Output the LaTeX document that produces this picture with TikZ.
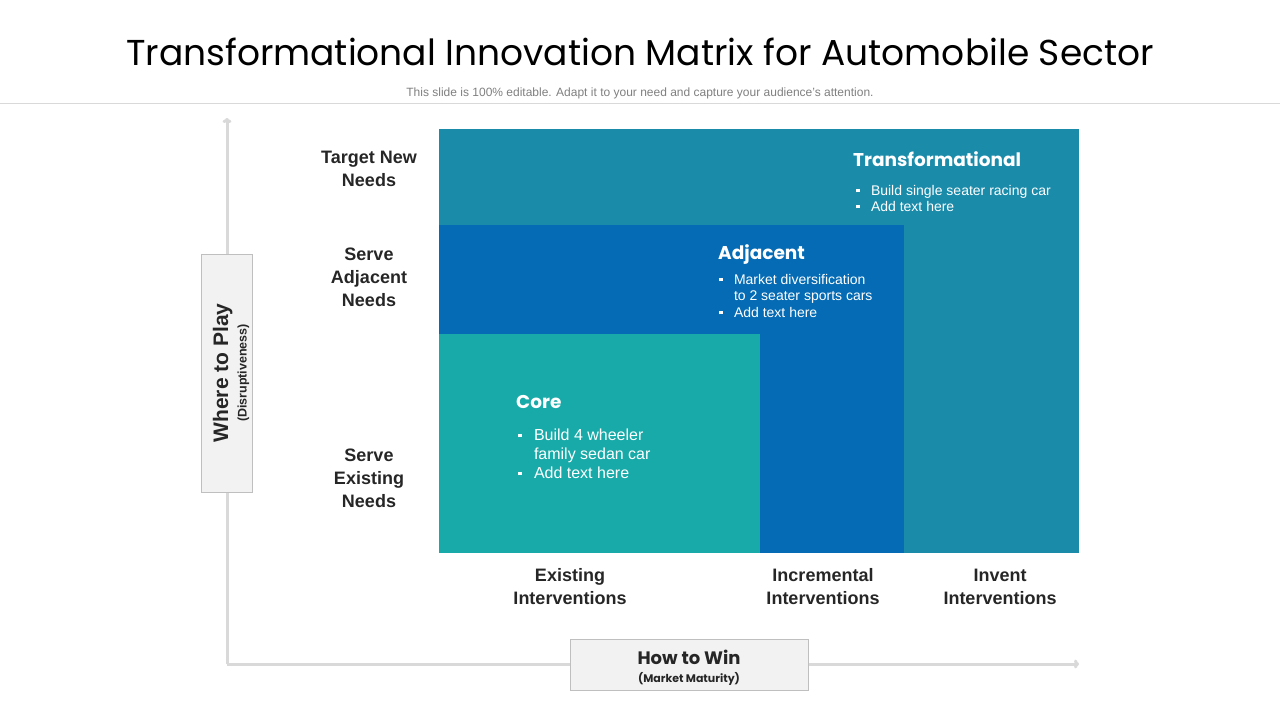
\documentclass[tikz,border=0pt]{standalone}
\usepackage{fontspec}
\setmainfont{Liberation Sans}
\newfontfamily\titlefont{Poppins}
\usetikzlibrary{arrows.meta}

\definecolor{transC}{HTML}{1B8BAA}
\definecolor{adjC}{HTML}{046BB4}
\definecolor{coreC}{HTML}{17AAA8}
\definecolor{axisC}{HTML}{D9D9D9}
\definecolor{boxC}{HTML}{F2F2F2}
\definecolor{boxLine}{HTML}{BFBFBF}
\definecolor{labelC}{HTML}{262626}
\definecolor{subC}{HTML}{7F7F7F}

\newcommand{\blt}{\rule[2.6pt]{3.8pt}{3.8pt}}

\begin{document}
\begin{tikzpicture}[x=1pt, y=-1pt,
  rowlab/.style={font=\fontsize{18}{23}\selectfont\bfseries, text=labelC, align=center, inner sep=0},
  head/.style={anchor=base west, inner sep=0, text=white, font=\titlefont\fontsize{18.5}{22}\selectfont\bfseries},
  items/.style={anchor=base west, inner sep=0, text=white},
  axisbox/.style={fill=boxC, draw=boxLine, line width=0.8pt, inner sep=0},
  axistext/.style={text=labelC, align=center, inner sep=0},
  axisline/.style={axisC, line width=3pt, -{To[length=5pt, width=9pt]}}]
  \useasboundingbox (0,0) rectangle (1280,720);

  % heading
  \node[font=\titlefont\fontsize{36}{40}\selectfont, text=black] (title) at (640,52)
    {Transformational Innovation Matrix for Automobile Sector};
  \node[font=\fontsize{12}{14}\selectfont, text=subC] (subtitle) at (640,93)
    {This slide is 100\% editable. Adapt it to your need and capture your audience’s attention.};
  \draw[axisC, line width=1pt] (0,103) -- (1280,103);

  % axes
  \coordinate (O) at (227,664);
  \coordinate (Ytop) at (227,118);
  \coordinate (Xend) at (1079,664);
  \draw[axisline] (O) -- (Ytop);
  \draw[axisline] (O) -- (Xend);

  % matrix blocks
  \fill[transC] (439,129) rectangle (1079,553);
  \fill[adjC] (439,225) rectangle (904,553);
  \fill[coreC] (439,334) rectangle (760,553);

  \node[head] (trans) at (853,166) {Transformational};
  \node[items, font=\fontsize{14}{16}\selectfont] (transList) at (856,195)
    {\begin{tabular}[t]{@{}l@{\hspace{11pt}}l@{}}\blt & Build single seater racing car\\ \blt & Add text here\end{tabular}};

  \node[head] (adj) at (718,259) {Adjacent};
  \node[items, font=\fontsize{14}{16.5}\selectfont] (adjList) at (719,284)
    {\begin{tabular}[t]{@{}l@{\hspace{11pt}}l@{}}\blt & Market diversification\\ & to 2 seater sports cars\\ \blt & Add text here\end{tabular}};

  \node[head] (core) at (516,408) {Core};
  \node[items, font=\fontsize{16}{19}\selectfont] (coreList) at (518,440)
    {\begin{tabular}[t]{@{}l@{\hspace{12pt}}l@{}}\blt & Build 4 wheeler\\ & family sedan car\\ \blt & Add text here\end{tabular}};

  % row and column labels
  \node[rowlab] (tgtNeeds) at (369,169) {Target New\\Needs};
  \node[rowlab] (adjNeeds) at (369,277) {Serve\\Adjacent\\Needs};
  \node[rowlab] (extNeeds) at (369,478) {Serve\\Existing\\Needs};
  \node[rowlab] (extInt) at (570,587) {Existing\\Interventions};
  \node[rowlab] (incInt) at (823,587) {Incremental\\Interventions};
  \node[rowlab] (invInt) at (1000,587) {Invent\\Interventions};

  % axis titles
  \node[axisbox, minimum width=51, minimum height=238] (playBox) at (226.5,373) {};
  \node[axistext, rotate=90] (playText) at (231,373)
    {{\fontsize{21}{24}\selectfont\bfseries Where to Play}\\[4pt]{\fontsize{12.5}{14}\selectfont\bfseries (Disruptiveness)}};
  \node[axisbox, minimum width=238, minimum height=51] (winBox) at (689,664.5) {};
  \node[axistext] (winText) at (689,668)
    {{\titlefont\fontsize{18}{22}\selectfont\bfseries How to Win}\\[6pt]{\titlefont\fontsize{11}{13}\selectfont\bfseries (Market Maturity)}};
\end{tikzpicture}
\end{document}
